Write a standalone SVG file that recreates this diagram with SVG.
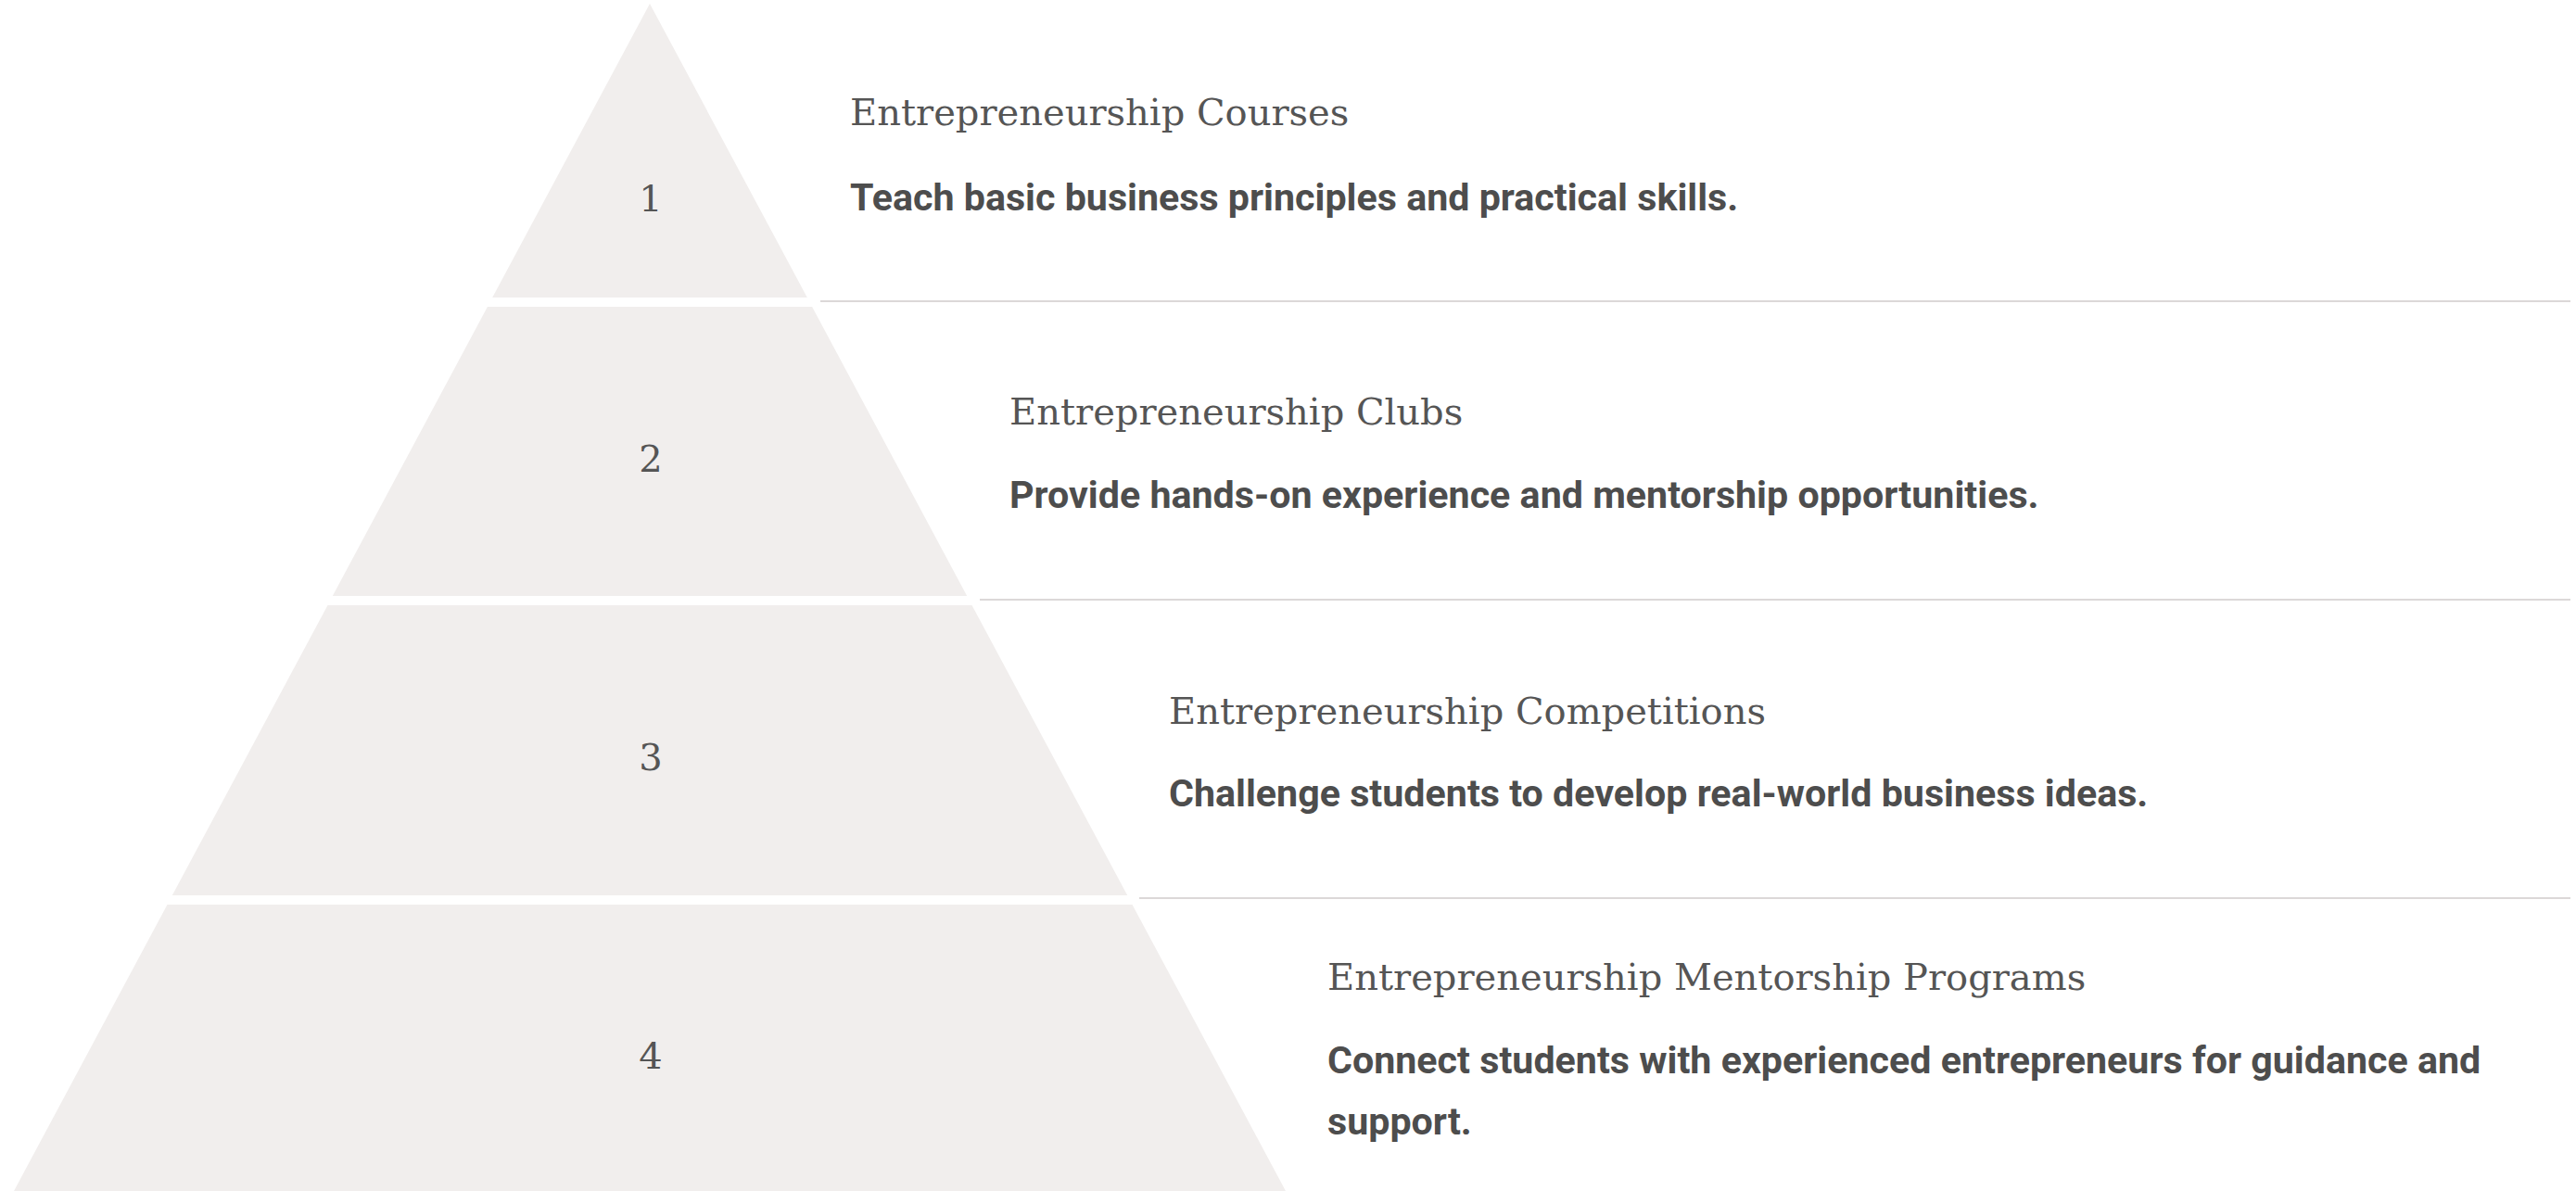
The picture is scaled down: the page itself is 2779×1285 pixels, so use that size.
<svg xmlns="http://www.w3.org/2000/svg" width="2779" height="1285" viewBox="0 0 2779 1285">
<style>
.band{fill:#f1eeed;}
.num{font-family:"DejaVu Serif","Liberation Serif",serif;font-size:40px;fill:#555;text-anchor:middle;}
.title{font-family:"DejaVu Serif","Liberation Serif",serif;font-size:40px;fill:#555;}
.desc{font-family:Roboto,"Liberation Sans",sans-serif;font-size:41.2px;font-weight:700;fill:#4d4d4d;}
.sep{stroke:#dcd8d8;stroke-width:2;fill:none;}
</style>
<rect width="2779" height="1285" fill="#ffffff"/>
<g id="connectors">
<line class="sep" x1="885" y1="325" x2="2773" y2="325"/>
<line class="sep" x1="1057" y1="647" x2="2773" y2="647"/>
<line class="sep" x1="1229" y1="969" x2="2773" y2="969"/>
</g>
<g id="level1">
<polygon class="band" points="701,4 870.8,321 531.2,321"/>
<text class="num" x="702" y="228">1</text>
<text class="title" x="917" y="135">Entrepreneurship Courses</text>
<text class="desc" x="917" y="227">Teach basic business principles and practical skills.</text>
</g>
<g id="level2">
<polygon class="band" points="525.9,331 876.1,331 1043.2,643 358.8,643"/>
<text class="num" x="702" y="509">2</text>
<text class="title" x="1089" y="458">Entrepreneurship Clubs</text>
<text class="desc" x="1089" y="548">Provide hands-on experience and mentorship opportunities.</text>
</g>
<g id="level3">
<polygon class="band" points="353.5,653 1048.5,653 1216.2,966 185.8,966"/>
<text class="num" x="702" y="831">3</text>
<text class="title" x="1261" y="781">Entrepreneurship Competitions</text>
<text class="desc" x="1261" y="870">Challenge students to develop real-world business ideas.</text>
</g>
<g id="level4">
<polygon class="band" points="180.5,976 1221.5,976 1387,1285 15,1285"/>
<text class="num" x="702" y="1153">4</text>
<text class="title" x="1432" y="1068">Entrepreneurship Mentorship Programs</text>
<text class="desc" x="1432" y="1158">Connect students with experienced entrepreneurs for guidance and</text>
<text class="desc" x="1432" y="1224">support.</text>
</g>
</svg>
